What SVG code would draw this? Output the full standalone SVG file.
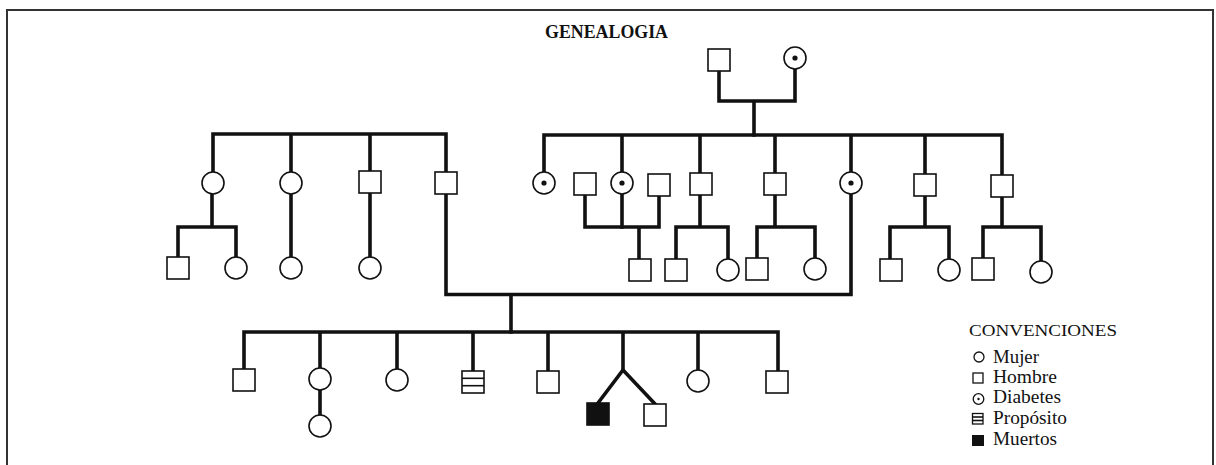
<svg xmlns="http://www.w3.org/2000/svg" width="1216" height="465" viewBox="0 0 1216 465">
<style>
.c{fill:none;stroke:#111;stroke-width:3.6;stroke-linecap:square;stroke-linejoin:miter}
.n{fill:#fff;stroke:#111;stroke-width:1.6}
.dot{fill:#111}
.ln{stroke:#111;stroke-width:1.6}
.t{font-family:"Liberation Serif","Times New Roman",serif;fill:#111}
.ls{fill:#fff;stroke:#111;stroke-width:1.3}
</style>
<rect width="1216" height="465" fill="#fff"/>
<rect x="7" y="10" width="1206" height="470" fill="none" stroke="#333" stroke-width="2"/>
<text class="t" x="545" y="38" font-size="19" font-weight="bold" textLength="123" lengthAdjust="spacingAndGlyphs">GENEALOGIA</text>

<g id="connectors">
<path class="c" d="M719 71V101H795V69M754 101V135"/>
<path class="c" d="M544 172V135H1002V175M622 135V227M700 135V173M775 135V173M851 135V172M925 135V174"/>
<path class="c" d="M585 195V227H659V196M639 227V259"/>
<path class="c" d="M700 195V227M676 259V227H728V259"/>
<path class="c" d="M775 195V227M757 258V227H815V258"/>
<path class="c" d="M925 196V227M890 259V227H949V259"/>
<path class="c" d="M1002 197V227M983 258V227H1041V261"/>
<path class="c" d="M213 172V134H446V172M291 134V172M370 134V171"/>
<path class="c" d="M212 194V227M178 257V227H236V257"/>
<path class="c" d="M291 194V257M370 193V257"/>
<path class="c" d="M446 193V294.5H851V194M511 294.5V332"/>
<path class="c" d="M244 369V332H778V371M320 332V368M397 332V369M473 332V371M548 332V371M623 332V370M698 332V370M320 390V415"/>
<path class="c" d="M598 403L623 370L655 404" stroke-linecap="butt"/>
</g>

<g id="n-gf"><rect class="n" x="708" y="49" width="22" height="22"/></g>
<g id="n-gm"><circle class="n" cx="795" cy="58" r="11"/><circle class="dot" cx="795" cy="58" r="2.6"/></g>

<g id="n-r1"><circle class="n" cx="544" cy="183" r="11"/><circle class="dot" cx="544" cy="183" r="2.6"/></g>
<g id="n-r2h"><rect class="n" x="574" y="173" width="22" height="22"/></g>
<g id="n-r2"><circle class="n" cx="622" cy="183" r="11"/><circle class="dot" cx="622" cy="183" r="2.6"/></g>
<g id="n-r2h2"><rect class="n" x="648" y="174" width="22" height="22"/></g>
<g id="n-r3"><rect class="n" x="690" y="173" width="22" height="22"/></g>
<g id="n-r4"><rect class="n" x="764" y="173" width="22" height="22"/></g>
<g id="n-r5"><circle class="n" cx="851" cy="183" r="11"/><circle class="dot" cx="851" cy="183" r="2.6"/></g>
<g id="n-r6"><rect class="n" x="914" y="174" width="22" height="22"/></g>
<g id="n-r7"><rect class="n" x="991" y="175" width="22" height="22"/></g>

<g id="n-r2c"><rect class="n" x="629" y="259" width="22" height="22"/></g>
<g id="n-r3c1"><rect class="n" x="665" y="259" width="22" height="22"/></g>
<g id="n-r3c2"><circle class="n" cx="728" cy="270" r="11"/></g>
<g id="n-r4c1"><rect class="n" x="746" y="258" width="22" height="22"/></g>
<g id="n-r4c2"><circle class="n" cx="815" cy="269" r="11"/></g>
<g id="n-r6c1"><rect class="n" x="880" y="259" width="22" height="22"/></g>
<g id="n-r6c2"><circle class="n" cx="949" cy="270" r="11"/></g>
<g id="n-r7c1"><rect class="n" x="972" y="258" width="22" height="22"/></g>
<g id="n-r7c2"><circle class="n" cx="1041" cy="272" r="11"/></g>

<g id="n-l1"><circle class="n" cx="213" cy="183" r="11"/></g>
<g id="n-l2"><circle class="n" cx="291" cy="183" r="11"/></g>
<g id="n-l3"><rect class="n" x="359" y="171" width="22" height="22"/></g>
<g id="n-l4"><rect class="n" x="435" y="172" width="22" height="22"/></g>
<g id="n-l1c1"><rect class="n" x="167" y="257" width="22" height="22"/></g>
<g id="n-l1c2"><circle class="n" cx="236" cy="268" r="11"/></g>
<g id="n-l2c"><circle class="n" cx="291" cy="268" r="11"/></g>
<g id="n-l3c"><circle class="n" cx="370" cy="268" r="11"/></g>

<g id="n-b1"><rect class="n" x="233" y="369" width="22" height="22"/></g>
<g id="n-b2"><circle class="n" cx="320" cy="379" r="11"/></g>
<g id="n-b2c"><circle class="n" cx="320" cy="426" r="11"/></g>
<g id="n-b3"><circle class="n" cx="397" cy="380" r="11"/></g>
<g id="n-b4"><rect class="n" x="462" y="371" width="22" height="22"/><line class="ln" x1="462" y1="378.3" x2="484" y2="378.3"/><line class="ln" x1="462" y1="385.7" x2="484" y2="385.7"/></g>
<g id="n-b5"><rect class="n" x="537" y="371" width="22" height="22"/></g>
<g id="n-b6a"><rect class="n" x="587" y="403" width="22" height="22" style="fill:#111"/></g>
<g id="n-b6b"><rect class="n" x="644" y="404" width="22" height="22"/></g>
<g id="n-b7"><circle class="n" cx="698" cy="381" r="11"/></g>
<g id="n-b8"><rect class="n" x="766" y="371" width="22" height="22"/></g>

<g id="legend">
<text class="t" x="969" y="336" font-size="17.5" textLength="148" lengthAdjust="spacingAndGlyphs">CONVENCIONES</text>
<circle class="ls" cx="979" cy="357" r="5"/>
<text class="t" x="993" y="363" font-size="18.5" textLength="46" lengthAdjust="spacingAndGlyphs">Mujer</text>
<rect class="ls" x="973" y="373" width="10" height="10"/>
<text class="t" x="993" y="383" font-size="18.5" textLength="64" lengthAdjust="spacingAndGlyphs">Hombre</text>
<circle class="ls" cx="978.5" cy="399" r="5.3"/><circle class="dot" cx="978.5" cy="399" r="1.2"/>
<text class="t" x="993" y="403" font-size="18.5" textLength="68" lengthAdjust="spacingAndGlyphs">Diabetes</text>
<rect class="ls" x="972.5" y="413.5" width="10.5" height="10.5"/><line class="ln" x1="972.5" y1="417" x2="983" y2="417" stroke-width="1.3"/><line class="ln" x1="972.5" y1="420.5" x2="983" y2="420.5" stroke-width="1.3"/>
<text class="t" x="993" y="424" font-size="18.5" textLength="74" lengthAdjust="spacingAndGlyphs">Propósito</text>
<rect x="972" y="435" width="12" height="11" fill="#111"/>
<text class="t" x="993" y="445" font-size="18.5" textLength="64" lengthAdjust="spacingAndGlyphs">Muertos</text>
</g>
</svg>
